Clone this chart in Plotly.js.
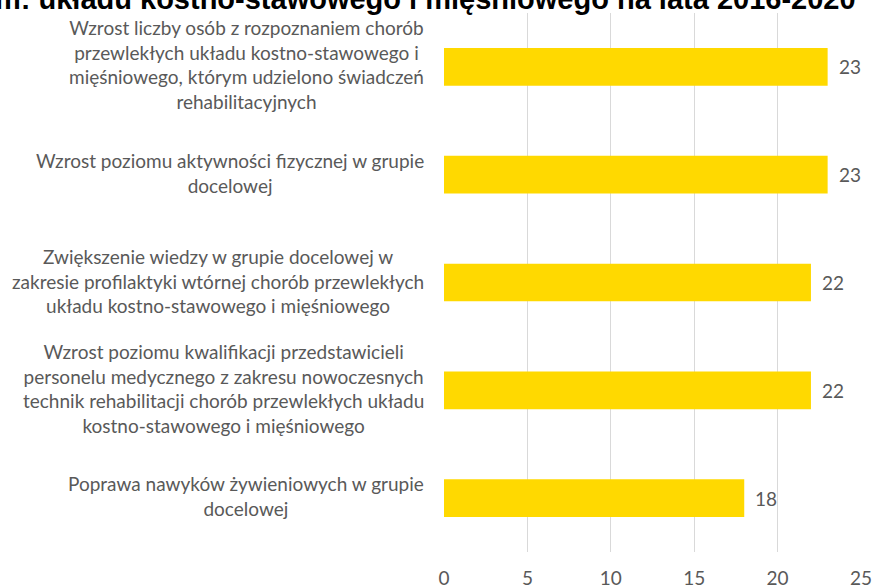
<!DOCTYPE html>
<html>
<head>
<meta charset="utf-8">
<script src="https://cdn.plot.ly/plotly-3.0.1.min.js"></script>
<style>
  html, body { margin: 0; padding: 0; background: #ffffff; }
  #chart { width: 872px; height: 588px; }
</style>
</head>
<body>
<div id="chart"></div>
<script>
// Indicator names (top to bottom) and their values
const categories = [
  "Wzrost liczby osób z rozpoznaniem chorób<br>przewlekłych układu kostno-stawowego i<br>mięśniowego, którym udzielono świadczeń<br>rehabilitacyjnych",
  "Wzrost poziomu aktywności fizycznej w grupie<br>docelowej",
  "Zwiększenie wiedzy w grupie docelowej w<br>zakresie profilaktyki wtórnej chorób przewlekłych<br>układu kostno-stawowego i mięśniowego",
  "Wzrost poziomu kwalifikacji przedstawicieli<br>personelu medycznego z zakresu nowoczesnych<br>technik rehabilitacji chorób przewlekłych układu<br>kostno-stawowego i mięśniowego",
  "Poprawa nawyków żywieniowych w grupie<br>docelowej"
];
const values = [23, 23, 22, 22, 18];
const xTicks = [0, 5, 10, 15, 20, 25];
const titleText = "m: układu kostno-stawowego i mięśniowego na lata 2016-2020";

const labelFont = { family: "Lato, 'Open Sans', sans-serif", size: 19, color: "#595959" };
const slots = categories.map((_, i) => i);

const trace = {
  type: "bar",
  orientation: "h",
  x: values,
  y: slots,
  width: 0.35,
  marker: { color: "#FFD900" },
  hoverinfo: "x"
};

// Category labels: block right-aligned to the plot, lines centred within it
const catAnnotations = categories.map((c, i) => ({
  xref: "paper", yref: "y",
  x: 0, y: slots[i],
  xanchor: "right", yanchor: "middle",
  xshift: -18,
  yshift: 2,
  align: "center",
  text: c,
  showarrow: false,
  font: labelFont
}));

// Value labels placed just past the end of each bar
const valueAnnotations = values.map((v, i) => ({
  xref: "x", yref: "y",
  x: v, y: slots[i],
  xanchor: "left", yanchor: "middle",
  xshift: 9,
  text: String(v),
  showarrow: false,
  font: labelFont
}));

// Heading, running past the top edge of the page
const titleAnnotation = {
  xref: "paper", yref: "paper",
  x: 0.99, y: 1,
  xanchor: "right", yanchor: "bottom",
  yshift: -3,
  text: "<b>" + titleText + "</b>",
  showarrow: false,
  borderpad: 0,
  font: { family: "'Liberation Sans', Arial, sans-serif", size: 29, color: "#000000" }
};

const layout = {
  width: 872, height: 588,
  margin: { l: 444, r: 11, t: 13, b: 36 },
  paper_bgcolor: "#ffffff",
  plot_bgcolor: "#ffffff",
  showlegend: false,
  xaxis: {
    range: [0, 25],
    tickvals: xTicks,
    ticktext: xTicks.map(String),
    showgrid: true,
    gridcolor: "#d9d9d9",
    gridwidth: 1,
    zeroline: false,
    showline: false,
    ticks: "",
    ticklabelstandoff: 13,
    ticklabeloverflow: "allow",
    tickfont: labelFont,
    fixedrange: true
  },
  yaxis: {
    range: [4.5, -0.5],
    showticklabels: false,
    showgrid: false,
    zeroline: false,
    showline: false,
    ticks: "",
    fixedrange: true
  },
  annotations: [titleAnnotation, ...catAnnotations, ...valueAnnotations]
};

Plotly.newPlot("chart", [trace], layout, { displayModeBar: false, staticPlot: true });
</script>
</body>
</html>
